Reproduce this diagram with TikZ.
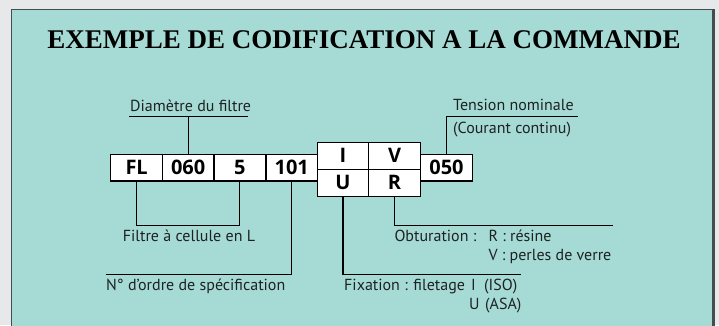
\documentclass[tikz,border=0pt]{standalone}
\usepackage{fontspec}
\setmainfont{Liberation Serif}
\setsansfont{Open Sans}
\newfontfamily\lblfont{PT Sans}
\definecolor{bggray}{RGB}{230,232,233}
\definecolor{panel}{RGB}{166,219,213}
\definecolor{frame}{RGB}{70,76,76}
\definecolor{txt}{RGB}{30,34,34}
\tikzset{
  cell/.style={draw=black, fill=white, line width=1.3pt, inner sep=0pt,
    minimum height=26.7pt, minimum width=51.7pt, text=black,
    font=\sffamily\bfseries\fontsize{20}{20}\selectfont},
  lbl/.style={inner sep=0pt, anchor=base west, text=txt,
    font=\lblfont\fontsize{16}{16}\selectfont},
  conn/.style={draw=black, line width=1.2pt},
}
\begin{document}
\begin{tikzpicture}[x=1pt,y=-1pt]
\useasboundingbox (0,0) rectangle (719,325);
\fill[bggray] (0,0) rectangle (719,325);
\fill[panel] (11,9.5) rectangle (713,326);
\draw[frame, line width=1pt] (11,326) -- (11,9.5) -- (713,9.5);
\draw[frame, line width=2.6pt] (713.5,9) -- (713.5,326);

\node[anchor=base, inner sep=0pt, text=black,
  font=\rmfamily\bfseries\fontsize{27}{27}\selectfont] (title) at (364,48)
  {EXEMPLE DE CODIFICATION A LA COMMANDE};

% code boxes
\node[cell] (FL)  at (136.65,167.65) {FL};
\node[cell] (c060) at (188.15,167.65) {060};
\node[cell] (c5)  at (239.85,167.65) {5};
\node[cell] (c101) at (291.7,167.65) {101};
\node[cell, minimum height=27pt, minimum width=51pt] (cI) at (343,155.8) {I};
\node[cell, minimum height=27pt, minimum width=52.4pt] (cV) at (394.5,155.8) {V};
\node[cell, minimum height=27pt, minimum width=51pt] (cU) at (343,182.7) {U};
\node[cell, minimum height=27pt, minimum width=52.4pt] (cR) at (394.5,182.7) {R};
\node[cell] (c050) at (446.5,167.65) {050};

% helper coordinates
\coordinate (dL) at (129.3,116.7);
\coordinate (dR) at (248.3,116.7);
\coordinate (tR) at (578.3,116.7);
\coordinate (lvA) at (0,225.3);
\coordinate (lvB) at (0,274.3);
\coordinate (nL) at (105.7,274.3);
\coordinate (fR) at (521,274.3);
\coordinate (oR) at (612.7,225.3);

% connectors
\draw[conn] (dL) -- (dR);
\draw[conn] (c060.north) -- (c060.north |- dL);
\draw[conn] (c050.north) |- (tR);
\draw[conn] (FL.south) -- (FL.south |- lvA) -| (c5.south);
\draw[conn] (c101.south) |- (nL);
\draw[conn] (cU.south) |- (fR);
\draw[conn] (cR.south) |- (oR);

% labels
\node[lbl] (diam) at (130,111) {Diamètre du filtre};
\node[lbl] (tens) at (453,110) {Tension nominale};
\node[lbl] (cour) at (453,133) {(Courant continu)};
\node[lbl] (filt) at (122.7,241.5) {Filtre à cellule en L};
\node[lbl] (nord) at (106,290.5) {N° d’ordre de spécification};
\node[lbl] (obt) at (394.3,241.5) {Obturation :};
\node[lbl] (res) at (488.3,241.5) {R : résine};
\node[lbl] (per) at (488.3,260.5) {V : perles de verre};
\node[lbl] (fix) at (344,290.5) {Fixation : filetage};
\node[lbl] (fI) at (471,290.5) {I};
\node[lbl] (iso) at (484,290.5) {(ISO)};
\node[lbl] (fU) at (469,309) {U};
\node[lbl] (asa) at (485,309) {(ASA)};
\end{tikzpicture}
\end{document}
